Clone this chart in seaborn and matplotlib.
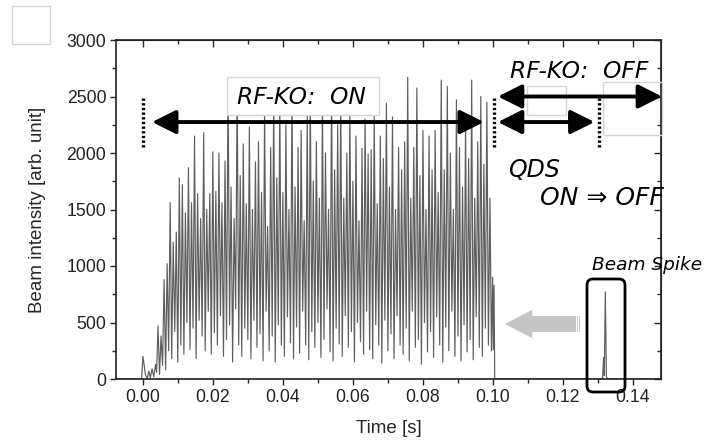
import numpy as np
import pandas as pd
import matplotlib
matplotlib.use("Agg")
import matplotlib.pyplot as plt
import seaborn as sns
from matplotlib.patches import Rectangle, FancyArrow, FancyBboxPatch, FancyArrowPatch
from matplotlib.transforms import IdentityTransform
from matplotlib.ticker import MultipleLocator

# ---- data -------------------------------------------------------------
# beam start: small bump at t=0 then low wiggles before extraction ramps up
start_t = [-0.0077, -0.0004, 0.0000, 0.0007, 0.0012, 0.0017, 0.0021, 0.0026, 0.0031, 0.0036, 0.0039]
start_v = [0, 0, 200, 40, 0, 70, 10, 90, 20, 130, 60]

# extraction with RF-KO on: one peak and one trough per ripple period
ripple_t0 = 0.0043
ripple_period = 0.00087
peak_vals = [
    470, 380, 880, 1020, 1560, 1210, 1300, 1780, 1720, 1470,
    1870, 1560, 2150, 1640, 1420, 2180, 1500, 1640, 2010, 1660,
    2000, 1560, 1930, 2650, 1700, 1420, 2600, 1800, 2080, 1550,
    2230, 1500, 1920, 2100, 1650, 2380, 1350, 2050, 2500, 1780,
    2450, 1650, 2250, 1500, 2560, 1700, 2050, 2200, 1400, 2350,
    2550, 1750, 2100, 1600, 2450, 2000, 1500, 2600, 1850, 2250,
    2520, 1600, 2000, 2380, 1750, 2150, 1400, 2040, 2300, 1990,
    2030, 2370, 1550, 2150, 1950, 2440, 1700, 2320, 1500, 2050,
    1850, 2100, 2670, 1600, 2050, 2575, 1800, 2200, 1500, 2150,
    1850, 2200, 1650, 2645, 1850, 2590, 2000, 1500, 2470, 2050,
    1700, 2250, 1950, 2645, 1600, 2100, 2500, 1900, 2450, 1600,
]
trough_vals = [
    40, 120, 80, 250, 180, 420, 150, 300, 220, 500,
    260, 450, 180, 520, 380, 250, 600, 220, 410, 300,
    560, 200, 350, 480, 150, 620, 300, 200, 450, 350,
    180, 520, 280, 400, 160, 600, 250, 380, 150, 480,
    300, 200, 550, 320, 180, 460, 230, 600, 300, 170,
    420, 280, 500, 190, 350, 620, 240, 160, 450, 310,
    200, 560, 280, 420, 150, 500, 330, 220, 600, 260,
    180, 480, 300, 140, 520, 250, 400, 180, 560, 300,
    220, 450, 160, 600, 280, 350, 130, 500, 240, 420,
    190, 550, 300, 150, 460, 250, 600, 200, 380, 160,
    480, 240, 350, 170, 550, 280, 200, 450, 300, 250,
]

# RF-KO switched off at 0.1 s, then the QDS-induced beam spike
tail_t = [0.0999, 0.1001, 0.1003, 0.1005, 0.1313, 0.1316, 0.1318, 0.1321, 0.1324, 0.1328, 0.1480]
tail_v = [900, 260, 830, 0, 0, 190, 30, 770, 20, 0, 0]

x_ticks = [0.00, 0.02, 0.04, 0.06, 0.08, 0.10, 0.12, 0.14]
y_ticks = [0, 500, 1000, 1500, 2000, 2500, 3000]

# ---- assemble the trace -------------------------------------------------
n = len(peak_vals)
peak_t = ripple_t0 + ripple_period * np.arange(n)
trough_t = peak_t + ripple_period / 2
ripple_t = np.empty(2 * n)
ripple_v = np.empty(2 * n)
ripple_t[0::2], ripple_t[1::2] = peak_t, trough_t
ripple_v[0::2], ripple_v[1::2] = peak_vals, trough_vals

df = pd.DataFrame({
    "Time [s]": np.concatenate([start_t, ripple_t, tail_t]),
    "Beam intensity [arb. unit]": np.concatenate([start_v, ripple_v, tail_v]),
})

# ---- figure -------------------------------------------------------------
sns.set_style("ticks")
plt.rcParams["font.family"] = ["Liberation Sans", "DejaVu Sans"]

W, H = 704, 441
fig = plt.figure(figsize=(W / 100, H / 100), dpi=100)
ax = fig.add_axes([116 / W, 1 - 379 / H, (661 - 116) / W, (379 - 40) / H])

sns.lineplot(data=df, x="Time [s]", y="Beam intensity [arb. unit]", ax=ax,
             color="#5e5e5e", linewidth=0.85, estimator=None, sort=False, zorder=2)

ax.set_xlim(-0.0077, 0.148)
ax.set_ylim(0, 3000)
ax.set_xticks(x_ticks)
ax.set_xticklabels([f"{v:.2f}" for v in x_ticks])
ax.set_yticks(y_ticks)
ax.xaxis.set_minor_locator(MultipleLocator(0.01))
ax.yaxis.set_minor_locator(MultipleLocator(250))
ax.tick_params(which="major", direction="out", length=4, width=1, labelsize=12.7,
               colors="#222222", pad=3)
ax.tick_params(which="minor", direction="out", length=3, width=1)
ax.set_xlabel("Time [s]", fontsize=13.5, labelpad=10)
ax.set_ylabel("Beam intensity [arb. unit]", fontsize=13.5, labelpad=15)
for s in ax.spines.values():
    s.set_visible(True)
    s.set_linewidth(1.2)
    s.set_color("#222222")

# mirrored inward ticks on the top and right frame
top = ax.secondary_xaxis("top")
top.set_xticks(x_ticks)
top.xaxis.set_minor_locator(MultipleLocator(0.01))
top.tick_params(which="major", direction="in", length=5, width=1, labeltop=False)
top.tick_params(which="minor", direction="in", length=3, width=1)
right = ax.secondary_yaxis("right")
right.set_yticks(y_ticks)
right.yaxis.set_minor_locator(MultipleLocator(250))
right.tick_params(which="major", direction="in", length=5, width=1, labelright=False)
right.tick_params(which="minor", direction="in", length=3, width=1)


def px_rect(x0, y0, x1, y1, **kw):
    """Rectangle given in image pixels (origin top-left), drawn inside the axes stack."""
    r = Rectangle((x0, H - y1), x1 - x0, y1 - y0, transform=IdentityTransform(),
                  clip_on=False, **kw)
    ax.add_patch(r)
    return r


# light frames
px_rect(12, 6, 50, 44, fill=False, edgecolor="#d4d4d4", linewidth=1.0, zorder=3)
px_rect(227, 77, 379, 115, facecolor="white", edgecolor="#d4d4d4", linewidth=1.0, zorder=3)
px_rect(527, 86, 566, 115, fill=False, edgecolor="#d4d4d4", linewidth=1.0, zorder=3)
px_rect(603, 82, 662, 135, fill=False, edgecolor="#d4d4d4", linewidth=1.0, zorder=3)

# italic labels
txt = dict(family="DejaVu Sans", style="italic", color="black", zorder=6, clip_on=False)
ax.text(0.0269, 2434, "RF-KO:  ON", fontsize=16.8, ha="left", va="baseline", **txt)
ax.text(0.1049, 2664, "RF-KO:  OFF", fontsize=16.8, ha="left", va="baseline", **txt)
ax.text(0.1043, 1788, "QDS", fontsize=17, ha="left", va="baseline", **txt)
ax.text(0.1134, 1540, "ON \u21d2 OFF", fontsize=18, ha="left", va="baseline", **txt)
ax.text(0.1283, 965, "Beam Spike", fontsize=13.3, ha="left", va="baseline", **txt)

# dotted markers at the switching times
for xv in (0.0, 0.1003, 0.1303):
    ax.plot([xv, xv], [2050, 2490], color="black", linewidth=2.4,
            linestyle=(0, (0.7, 0.7)), zorder=5)

# double-headed arrows
arrow_style = "<|-|>,head_length=1.0,head_width=0.5"
for (x0, x1, yv) in [(0.0026, 0.0974, 2274), (0.1014, 0.1483, 2500), (0.1014, 0.1290, 2274)]:
    a = FancyArrowPatch((x0, yv), (x1, yv), arrowstyle=arrow_style, mutation_scale=14.5,
                        color="black", linewidth=2.8, shrinkA=0, shrinkB=0, zorder=5,
                        clip_on=False)
    ax.add_patch(a)

# grey block arrow pointing from the spike to the end of extraction
ga = FancyArrow(0.1249, 487, -0.0215, 0, width=142, head_width=250, head_length=0.0078,
                length_includes_head=True, facecolor="#c4c4c4", edgecolor="none", zorder=4)
ax.add_patch(ga)
for xv in (0.1236, 0.1242):
    ax.plot([xv, xv], [417, 557], color="white", linewidth=0.8, zorder=4.5)

# rounded frame around the beam spike
box = FancyBboxPatch((587, H - 392), 38, 113, boxstyle="round,pad=0,rounding_size=6",
                     transform=IdentityTransform(), fill=False, edgecolor="black",
                     linewidth=2.0, zorder=6, clip_on=False)
ax.add_patch(box)

fig.savefig("out.png", dpi=100)
